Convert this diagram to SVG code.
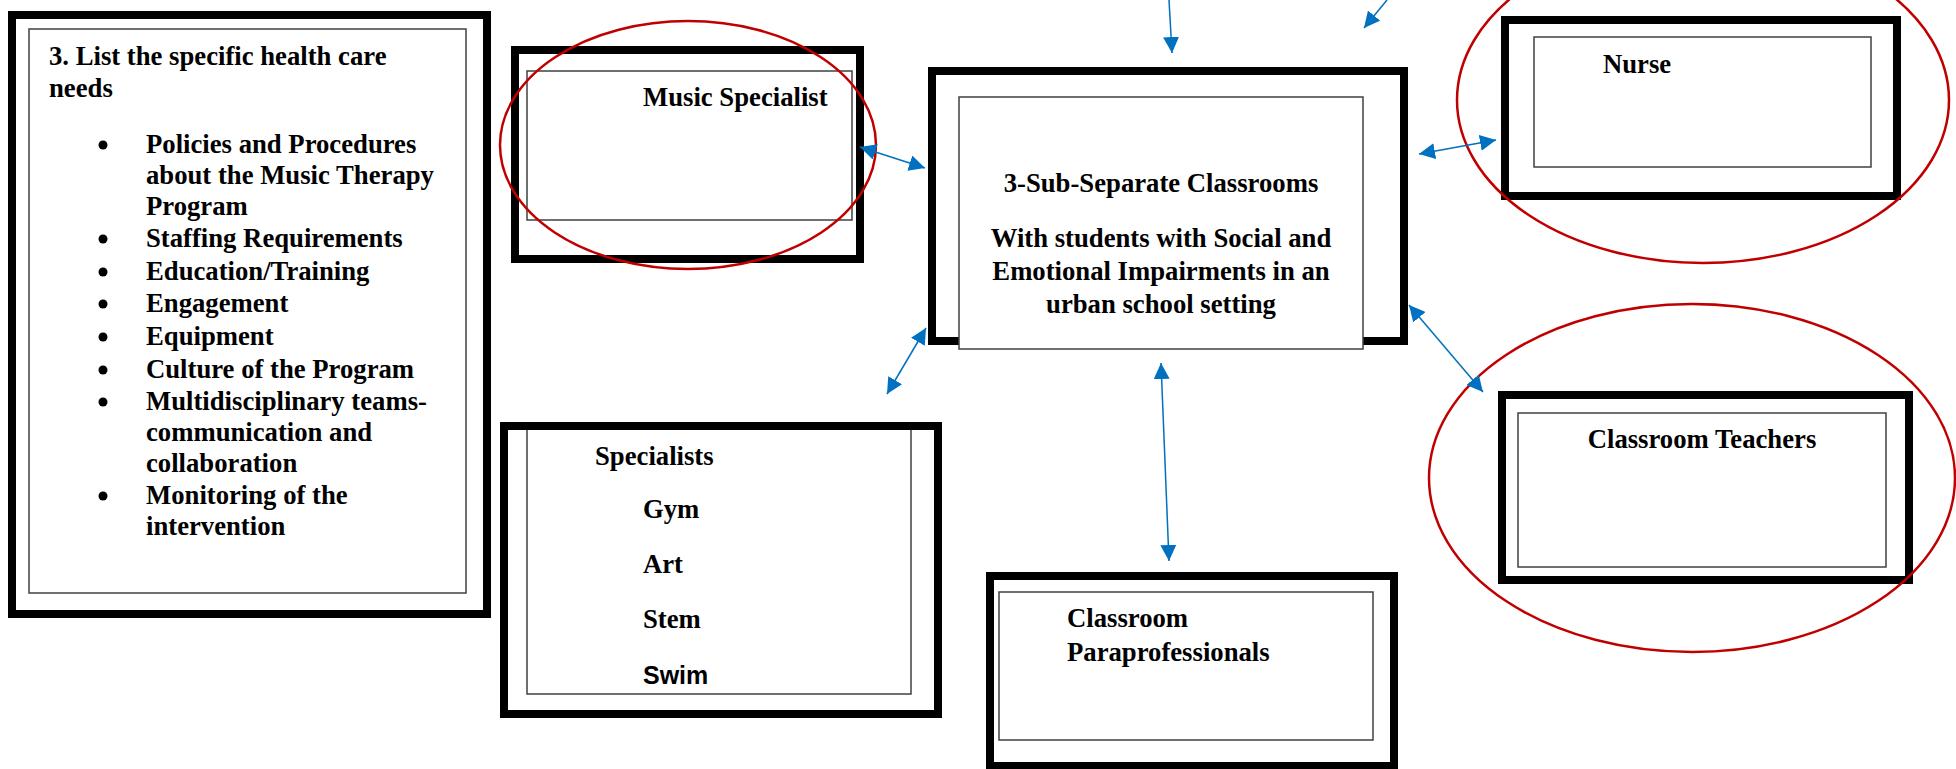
<svg xmlns="http://www.w3.org/2000/svg" width="1956" height="769" viewBox="0 0 1956 769">
<style>
.outer{fill:#fff;stroke:#000;stroke-width:8}
.inner{fill:#fff;stroke:#404040;stroke-width:1.5}
.t{font-family:"Liberation Serif","Times New Roman",serif;font-weight:bold;font-size:26.7px;fill:#000}
.s{font-family:"Liberation Sans",Arial,sans-serif;font-weight:bold;font-size:25px;fill:#000}
.oval{fill:none;stroke:#C00000;stroke-width:2.5}
.conn{stroke:#0070C0;stroke-width:1.5;fill:none}
</style>
<defs>
<marker id="ah" markerUnits="userSpaceOnUse" markerWidth="16" markerHeight="16" refX="15" refY="7.5" orient="auto-start-reverse" viewBox="0 0 15 15">
<path d="M0,0 L15,7.5 L0,15 z" fill="#0070C0"/>
</marker>
</defs>
<rect width="1956" height="769" fill="#fff"/>

<g id="needs-list">
<rect class="outer" x="12" y="15" width="475" height="599"/>
<rect class="inner" x="29" y="29" width="437" height="564"/>
<text class="t" x="49" y="65">3. List the specific health care</text>
<text class="t" x="49" y="97">needs</text>
<g class="t">
<circle cx="103" cy="145" r="4.5"/>
<text x="146" y="153">Policies and Procedures</text>
<text x="146" y="184">about the Music Therapy</text>
<text x="146" y="215">Program</text>
<circle cx="103" cy="239" r="4.5"/>
<text x="146" y="247">Staffing Requirements</text>
<circle cx="103" cy="272" r="4.5"/>
<text x="146" y="280">Education/Training</text>
<circle cx="103" cy="304" r="4.5"/>
<text x="146" y="312">Engagement</text>
<circle cx="103" cy="337" r="4.5"/>
<text x="146" y="345">Equipment</text>
<circle cx="103" cy="370" r="4.5"/>
<text x="146" y="378">Culture of the Program</text>
<circle cx="103" cy="402" r="4.5"/>
<text x="146" y="410">Multidisciplinary teams-</text>
<text x="146" y="441">communication and</text>
<text x="146" y="472">collaboration</text>
<circle cx="103" cy="496" r="4.5"/>
<text x="146" y="504">Monitoring of the</text>
<text x="146" y="535">intervention</text>
</g>
</g>

<g id="music-specialist">
<rect class="outer" x="515" y="50" width="345" height="209"/>
<rect class="inner" x="527" y="71" width="325" height="149"/>
<text class="t" x="643" y="106">Music Specialist</text>
</g>

<g id="central">
<rect class="outer" x="932" y="71" width="472" height="270"/>
<rect class="inner" x="959" y="97" width="404" height="252"/>
<g class="t" text-anchor="middle">
<text x="1161" y="192">3-Sub-Separate Classrooms</text>
<text x="1161" y="247">With students with Social and</text>
<text x="1161" y="280">Emotional Impairments in an</text>
<text x="1161" y="313">urban school setting</text>
</g>
</g>

<g id="nurse">
<rect class="outer" x="1505" y="20" width="392" height="176"/>
<rect class="inner" x="1534" y="37" width="337" height="130"/>
<text class="t" x="1603" y="73">Nurse</text>
</g>

<g id="classroom-teachers">
<rect class="outer" x="1502" y="395" width="407" height="185"/>
<rect class="inner" x="1518" y="413" width="368" height="154"/>
<text class="t" x="1702" y="448" text-anchor="middle">Classroom Teachers</text>
</g>

<g id="specialists">
<rect class="inner" x="527" y="428" width="384" height="266"/>
<rect x="504" y="426" width="434" height="288" fill="none" stroke="#000" stroke-width="8"/>
<text class="t" x="595" y="465">Specialists</text>
<text class="t" x="643" y="518">Gym</text>
<text class="t" x="643" y="573">Art</text>
<text class="t" x="643" y="628">Stem</text>
<text class="s" x="643" y="684">Swim</text>
</g>

<g id="paraprofessionals">
<rect class="outer" x="990" y="576" width="404" height="190"/>
<rect class="inner" x="999" y="592" width="374" height="148"/>
<text class="t" x="1067" y="627">Classroom</text>
<text class="t" x="1067" y="661">Paraprofessionals</text>
</g>

<g id="highlights">
<ellipse class="oval" cx="688" cy="145" rx="188" ry="124"/>
<ellipse class="oval" cx="1703" cy="100" rx="246" ry="163"/>
<ellipse class="oval" cx="1692" cy="478" rx="263" ry="174"/>
</g>

<g id="connectors" class="conn">
<line x1="1169" y1="0" x2="1172" y2="53" marker-end="url(#ah)"/>
<line x1="1387" y1="0" x2="1364" y2="28" marker-end="url(#ah)"/>
<line x1="860" y1="147" x2="925" y2="168" marker-start="url(#ah)" marker-end="url(#ah)"/>
<line x1="1419" y1="154" x2="1496" y2="140" marker-start="url(#ah)" marker-end="url(#ah)"/>
<line x1="1409" y1="305" x2="1483" y2="392" marker-start="url(#ah)" marker-end="url(#ah)"/>
<line x1="926" y1="328" x2="887" y2="394" marker-start="url(#ah)" marker-end="url(#ah)"/>
<line x1="1161" y1="363" x2="1169" y2="561" marker-start="url(#ah)" marker-end="url(#ah)"/>
</g>
</svg>
